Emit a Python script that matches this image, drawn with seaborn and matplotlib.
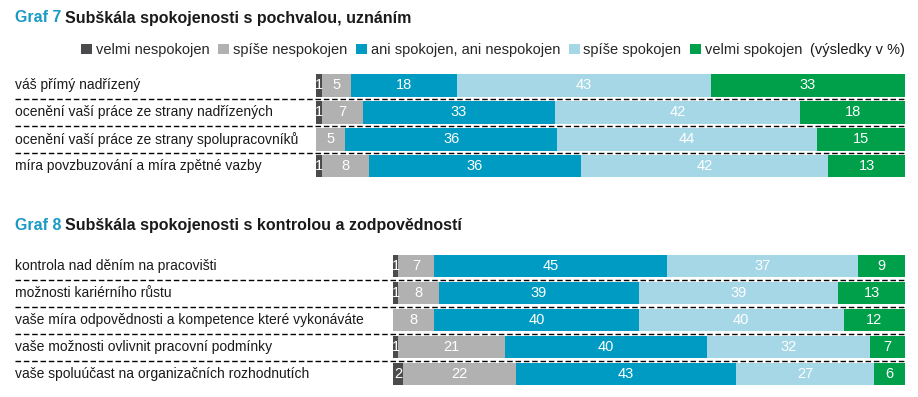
import numpy as np
import pandas as pd
import matplotlib.pyplot as plt
import seaborn as sns
from matplotlib.patches import Patch
from matplotlib.lines import Line2D
from matplotlib.transforms import blended_transform_factory

# answer categories and their colours
categories = ["velmi nespokojen", "spíše nespokojen", "ani spokojen, ani nespokojen",
              "spíše spokojen", "velmi spokojen"]
colors = ["#4b4b4d", "#b2b1b2", "#009bc2", "#a6d7e7", "#00a04a"]

# Graf 7
items7 = ["váš přímý nadřízený",
          "ocenění vaší práce ze strany nadřízených",
          "ocenění vaší práce ze strany spolupracovníků",
          "míra povzbuzování a míra zpětné vazby"]
velmi_nesp7 = [1, 1, 0, 1]
spise_nesp7 = [5, 7, 5, 8]
ani7 = [18, 33, 36, 36]
spise_sp7 = [43, 42, 44, 42]
velmi_sp7 = [33, 18, 15, 13]

# Graf 8
items8 = ["kontrola nad děním na pracovišti",
          "možnosti kariérního růstu",
          "vaše míra odpovědnosti a kompetence které vykonáváte",
          "vaše možnosti ovlivnit pracovní podmínky",
          "vaše spoluúčast na organizačních rozhodnutích"]
velmi_nesp8 = [1, 1, 0, 1, 2]
spise_nesp8 = [7, 8, 8, 21, 22]
ani8 = [45, 39, 40, 40, 43]
spise_sp8 = [37, 39, 40, 32, 27]
velmi_sp8 = [9, 13, 12, 7, 6]

W, H = 918, 397
TEAL = "#1a9ac4"
FS = 10

sns.set_style("white")
plt.rcParams["font.family"] = ["Liberation Sans", "DejaVu Sans"]

fig = plt.figure(figsize=(W / 100, H / 100), dpi=100)


def fx(px):
    return px / W


def fy(py):
    return 1 - py / H


def title(y, num, text):
    t = fig.text(fx(15), fy(y), num, color=TEAL, fontsize=11.5, fontweight="bold",
                 va="center")
    r = fig.canvas.get_renderer()
    bb = t.get_window_extent(r)
    fig.text((bb.x1 + 4) / W, fy(y), text, color="#1a1a1a", fontsize=11.5,
             fontweight="bold", va="center")


def draw_panel(ax, items, series):
    df = pd.DataFrame(dict(zip(categories, series)), index=items)
    share = df.div(df.sum(axis=1), axis=0) * 100
    cum = share.cumsum(axis=1)
    # overlay cumulative bars, widest first
    for cat, col in reversed(list(zip(categories, colors))):
        d = pd.DataFrame({"item": items, "x": cum[cat].values})
        sns.barplot(data=d, x="x", y="item", order=items, color=col, width=0.85,
                    errorbar=None, saturation=1, linewidth=0, ax=ax)
    for i, item in enumerate(items):
        left = 0
        for cat in categories:
            v = df.loc[item, cat]
            w = share.loc[item, cat]
            if v > 0:
                ax.text(left + w / 2, i, str(v), ha="center", va="center",
                        color="white", fontsize=10.5)
            left += w
    ax.set_xlim(0, 100)
    ax.set_ylim(len(items) - 0.5, -0.5)
    ax.axis("off")
    tr = blended_transform_factory(fig.transFigure, ax.transData)
    for i, item in enumerate(items):
        ax.text(fx(15), i, item, transform=tr, ha="left", va="center",
                fontsize=FS, color="#1a1a1a")
    for i in range(len(items) - 1):
        ax.add_line(Line2D([fx(15), fx(905)], [i + 0.5, i + 0.5], transform=tr,
                           color="black", lw=1, linestyle=(0, (4, 2)), clip_on=False))


# Graf 7 panel
ax1 = fig.add_axes([fx(316), fy(179.5), fx(905) - fx(316), (179.5 - 72) / H])
draw_panel(ax1, items7, [velmi_nesp7, spise_nesp7, ani7, spise_sp7, velmi_sp7])

# Graf 8 panel
ax2 = fig.add_axes([fx(393), fy(387.5), fx(905) - fx(393), (387.5 - 252.5) / H])
draw_panel(ax2, items8, [velmi_nesp8, spise_nesp8, ani8, spise_sp8, velmi_sp8])

title(18, "Graf 7", "Subškála spokojenosti s pochvalou, uznáním")
title(226, "Graf 8", "Subškála spokojenosti s kontrolou a zodpovědností")

handles = [Patch(facecolor=c, edgecolor="none", label=cat) for cat, c in zip(categories, colors)]
fig.legend(handles=handles, ncol=5, loc="center right", bbox_to_anchor=(fx(802), fy(50)),
           frameon=False, handlelength=0.75, handleheight=0.75, handletextpad=0.25,
           columnspacing=0.6, borderaxespad=0, borderpad=0, fontsize=10.5)
fig.text(fx(905), fy(50), "(výsledky v %)", ha="right", va="center", fontsize=10.5,
         color="#1a1a1a")

fig.savefig("out.png", dpi=100)
